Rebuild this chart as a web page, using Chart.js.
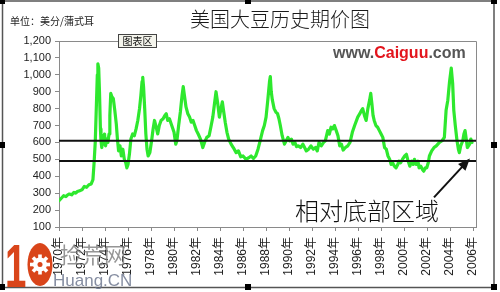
<!DOCTYPE html>
<html>
<head>
<meta charset="utf-8">
<script src="https://cdn.jsdelivr.net/npm/chart.js@4"></script>
<style>
  html, body { margin: 0; padding: 0; background: #fff; }
  #wrap { width: 500px; height: 292px; position: relative; }
</style>
</head>
<body>
<div id="wrap"><canvas id="grafico" width="500" height="292"></canvas></div>
<script>
// anos (fração = mês) e preço da soja em centavos/bushel
const anos = [
  1970.0, 1970.2, 1970.4, 1970.6, 1970.75, 1970.9, 1971.1, 1971.3, 1971.45, 1971.6, 1971.8,
  1972.0, 1972.2, 1972.4, 1972.6, 1972.8, 1972.95, 1973.05, 1973.15, 1973.25, 1973.33, 1973.38,
  1973.45, 1973.52, 1973.6, 1973.65, 1973.72, 1973.8, 1973.88, 1973.96, 1974.05, 1974.15, 1974.25,
  1974.35, 1974.42, 1974.5, 1974.6, 1974.72, 1974.85, 1974.98, 1975.08, 1975.18, 1975.3, 1975.42,
  1975.55, 1975.68, 1975.8, 1975.9, 1976.0, 1976.12, 1976.25, 1976.4, 1976.55, 1976.7, 1976.85,
  1977.0, 1977.12, 1977.22, 1977.28, 1977.35, 1977.45, 1977.55, 1977.65, 1977.75, 1977.9, 1978.05,
  1978.18, 1978.3, 1978.45, 1978.58, 1978.72, 1978.87, 1979.05, 1979.2, 1979.32, 1979.45, 1979.6,
  1979.8, 1980.0, 1980.15, 1980.25, 1980.4, 1980.55, 1980.7, 1980.8, 1980.9, 1981.04, 1981.2,
  1981.35, 1981.5, 1981.65, 1981.8, 1981.95, 1982.1, 1982.3, 1982.5, 1982.65, 1982.85, 1983.05,
  1983.2, 1983.37, 1983.5, 1983.65, 1983.78, 1983.94, 1984.08, 1984.2, 1984.3, 1984.45, 1984.6,
  1984.75, 1984.96, 1985.15, 1985.4, 1985.6, 1985.8, 1986.0, 1986.26, 1986.5, 1986.7, 1986.9,
  1987.1, 1987.3, 1987.45, 1987.7, 1987.85, 1988.0, 1988.15, 1988.3, 1988.37, 1988.45, 1988.55,
  1988.7, 1988.85, 1989.0, 1989.12, 1989.24, 1989.4, 1989.6, 1989.75, 1989.9, 1990.05, 1990.2,
  1990.35, 1990.5, 1990.65, 1990.8, 1991.0, 1991.2, 1991.35, 1991.5, 1991.7, 1991.9, 1992.1,
  1992.3, 1992.45, 1992.6, 1992.8, 1993.0, 1993.15, 1993.36, 1993.5, 1993.65, 1993.8, 1993.94,
  1994.1, 1994.25, 1994.4, 1994.55, 1994.7, 1994.9, 1995.1, 1995.3, 1995.5, 1995.7, 1995.97,
  1996.15, 1996.3, 1996.4, 1996.55, 1996.7, 1996.85, 1997.0, 1997.1, 1997.2, 1997.3, 1997.4,
  1997.55, 1997.7, 1997.85, 1998.0, 1998.15, 1998.3, 1998.45, 1998.6, 1998.75, 1998.87, 1999.0,
  1999.15, 1999.3, 1999.45, 1999.55, 1999.7, 1999.85, 2000.05, 2000.2, 2000.35, 2000.5, 2000.65,
  2000.8, 2000.9, 2001.05, 2001.2, 2001.3, 2001.45, 2001.6, 2001.7, 2001.85, 2001.97, 2002.1,
  2002.2, 2002.4, 2002.6, 2002.8, 2003.07, 2003.3, 2003.5, 2003.65, 2003.8, 2003.95, 2004.1,
  2004.22, 2004.32, 2004.45, 2004.6, 2004.72, 2004.8, 2004.92, 2005.1, 2005.2, 2005.3, 2005.4,
  2005.5, 2005.6, 2005.7, 2005.8, 2005.9
]
const precos = [
  255, 270, 285, 280, 290, 295, 290, 305, 300, 310, 315,
  320, 340, 335, 350, 355, 380, 480, 600, 820, 1000, 1065,
  1040, 900, 680, 610, 570, 640, 590, 650, 580, 620, 600,
  650, 760, 890, 870, 860, 790, 710, 620, 550, 580, 520,
  560, 500, 480, 450, 470, 530, 620, 650, 640, 680, 730,
  800, 880, 960, 985, 930, 800, 650, 560, 520, 540, 610,
  680, 730, 690, 650, 700, 730, 740, 760, 770, 730, 740,
  700, 660, 590, 610, 700, 780, 880, 930, 880, 810, 770,
  750, 720, 730, 700, 670, 650, 620, 570, 600, 630, 640,
  690, 750, 820, 900, 840, 750, 800, 840, 790, 720, 660,
  620, 590, 570, 540, 550, 515, 520, 500, 510, 520, 505,
  520, 560, 600, 670, 700, 750, 850, 960, 990, 900, 850,
  800, 780, 770, 740, 700, 640, 590, 610, 630, 610, 620,
  590, 600, 575, 580, 570, 590, 570, 550, 560, 580, 560,
  570, 550, 600, 580, 600, 610, 670, 650, 690, 680, 700,
  670, 640, 580, 590, 555, 570, 580, 600, 660, 700, 750,
  770, 790, 800, 760, 730, 800, 850, 890, 830, 760, 730,
  700, 690, 670, 650, 630, 570, 560, 520, 500, 470, 480,
  460, 450, 470, 490, 480, 500, 520, 530, 490, 460, 490,
  470, 500, 470, 490, 450, 460, 440, 430, 450, 450, 480,
  520, 550, 570, 580, 600, 610, 630, 790, 850, 960, 1040,
  950, 790, 700, 610, 560, 540, 580, 610, 650, 670, 620,
  570, 580, 590, 620, 600
]
const anosEixo = [1970, 1972, 1974, 1976, 1978, 1980, 1982, 1984, 1986, 1988,
  1990, 1992, 1994, 1996, 1998, 2000, 2002, 2004, 2006]
const precosEixo = [100, 200, 300, 400, 500, 600, 700, 800, 900, 1000, 1100, 1200]
const linhasSuporte = [610, 490]
const setaInicio = [2002.6, 275]
const setaFim = [2005.72, 505]

const FONTE_CJK = "'Noto Sans CJK SC'"
const FONTE_NUM = "'Liberation Sans', 'Noto Sans CJK SC'"
const LARANJA = "#d9451a"

function formatarPreco(v){
    return v >= 1000 ? Math.floor(v / 1000) + "," + String(v % 1000).padStart(3, "0") : String(v)
}

function desenharMarcaDagua(ctx){
    // "1"
    ctx.save()
    ctx.fillStyle = LARANJA
    ctx.textAlign = "left"
    ctx.textBaseline = "alphabetic"
    ctx.translate(5, 287)
    ctx.scale(0.62, 1)
    ctx.font = "bold 62px 'Liberation Sans'"
    ctx.fillText("1", 0, 0)
    ctx.restore()

    // "0" em forma de engrenagem
    ctx.save()
    ctx.translate(40, 264.5)
    ctx.fillStyle = LARANJA
    ctx.beginPath()
    ctx.ellipse(0, 0, 12.5, 21.5, 0, 0, Math.PI * 2)
    ctx.fill()
    ctx.fillStyle = "#fff"
    for(let i = 0; i < 8; i++){
        ctx.rotate(Math.PI / 4)
        ctx.fillRect(-1.8, -10, 3.6, 4)
    }
    ctx.beginPath()
    ctx.arc(0, 0, 7, 0, Math.PI * 2)
    ctx.fill()
    ctx.fillStyle = LARANJA
    ctx.beginPath()
    ctx.arc(0, 0, 2.5, 0, Math.PI * 2)
    ctx.fill()
    ctx.restore()

    ctx.save()
    ctx.globalAlpha = 0.8
    ctx.fillStyle = "#7a7a7a"
    ctx.textAlign = "left"
    ctx.textBaseline = "alphabetic"
    ctx.font = `22px ${FONTE_CJK}`
    ctx.fillText("捡荒网", 60, 263)
    ctx.fillStyle = "#66708a"
    ctx.font = "17px 'Liberation Sans'"
    ctx.fillText("Huang.CN", 53, 286)
    ctx.restore()
}

const decoracao = {
    id: "decoracao",
    beforeDatasetsDraw(chart){
        const { ctx, chartArea: a } = chart
        ctx.save()
        ctx.strokeStyle = "#8a8a8a"
        ctx.lineWidth = 1
        ctx.beginPath()
        ctx.moveTo(a.left, a.top + 0.5)
        ctx.lineTo(a.right + 0.5, a.top + 0.5)
        ctx.lineTo(a.right + 0.5, a.bottom)
        ctx.stroke()
        ctx.restore()
    },
    afterDraw(chart){
        const { ctx, scales } = chart
        const x = scales.x, y = scales.y
        ctx.save()

        // título e unidade
        ctx.fillStyle = "#1a1a1a"
        ctx.textBaseline = "middle"
        ctx.textAlign = "center"
        ctx.font = `300 20px ${FONTE_CJK}`
        ctx.fillText("美国大豆历史期价图", 280, 19)
        ctx.textAlign = "left"
        ctx.font = `10px ${FONTE_CJK}`
        ctx.fillText("单位：美分/蒲式耳", 10, 21)

        // caixinha "图表区"
        ctx.fillStyle = "#f4f4ec"
        ctx.fillRect(118.5, 34.5, 38, 13)
        ctx.strokeStyle = "#444"
        ctx.lineWidth = 1
        ctx.strokeRect(118.5, 34.5, 38, 13)
        ctx.fillStyle = "#111"
        ctx.textAlign = "center"
        ctx.font = `10px ${FONTE_CJK}`
        ctx.fillText("图表区", 137.5, 41.5)

        // marca d'água do site
        ctx.textAlign = "left"
        ctx.font = "bold 16px 'Liberation Sans'"
        let px = 333
        const partes = [["www.", "#555"], ["Caiguu", "#e3141c"], [".com", "#555"]]
        partes.forEach(p => {
            ctx.fillStyle = p[1]
            ctx.fillText(p[0], px, 54)
            px += ctx.measureText(p[0]).width
        })

        // seta e texto da anotação
        const x0 = x.getPixelForValue(setaInicio[0]), y0 = y.getPixelForValue(setaInicio[1])
        const x1 = x.getPixelForValue(setaFim[0]), y1 = y.getPixelForValue(setaFim[1])
        const ang = Math.atan2(y1 - y0, x1 - x0)
        ctx.strokeStyle = "#111"
        ctx.fillStyle = "#111"
        ctx.lineWidth = 2
        ctx.beginPath()
        ctx.moveTo(x0, y0)
        ctx.lineTo(x1 - 6 * Math.cos(ang), y1 - 6 * Math.sin(ang))
        ctx.stroke()
        ctx.beginPath()
        ctx.moveTo(x1, y1)
        ctx.lineTo(x1 - 12 * Math.cos(ang) + 5 * Math.sin(ang), y1 - 12 * Math.sin(ang) - 5 * Math.cos(ang))
        ctx.lineTo(x1 - 12 * Math.cos(ang) - 5 * Math.sin(ang), y1 - 12 * Math.sin(ang) + 5 * Math.cos(ang))
        ctx.closePath()
        ctx.fill()
        ctx.textAlign = "center"
        ctx.font = `300 24px ${FONTE_CJK}`
        ctx.fillText("相对底部区域", 367, 211)

        // moldura externa e alças de seleção
        ctx.strokeStyle = "#555"
        ctx.lineWidth = 1.5
        ctx.strokeRect(2.5, 1, 491.5, 286.5)
        ctx.fillStyle = "#000"
        const alcas = [[2, 1], [248, 1], [494, 1], [2, 145], [494, 145], [2, 287], [248, 287], [494, 287]]
        alcas.forEach(h => ctx.fillRect(h[0] - 3, h[1] - 3, 6, 6))
        ctx.restore()

        desenharMarcaDagua(ctx)
    }
}

function montarDatasets(){
    const serie = {
        data: anos.map((a, i) => ({ x: a, y: precos[i] })),
        borderColor: "#2ee82e",
        borderWidth: 3.2,
        borderJoinStyle: "round",
        borderCapStyle: "round",
        pointRadius: 0,
        tension: 0,
        order: 2
    }
    const linhas = linhasSuporte.map(v => ({
        data: [{ x: 1970, y: v }, { x: 2006.25, y: v }],
        borderColor: "#111",
        borderWidth: 2,
        pointRadius: 0,
        order: 1
    }))
    return [serie, ...linhas]
}

new Chart(document.getElementById("grafico"), {
    type: "line",
    data: { datasets: montarDatasets() },
    options: {
        responsive: false,
        animation: false,
        devicePixelRatio: 1,
        layout: { padding: { left: 0, right: 24, top: 41, bottom: 0 } },
        plugins: { legend: { display: false }, tooltip: { enabled: false } },
        scales: {
            x: {
                type: "linear",
                min: 1970,
                max: 2006.25,
                afterBuildTicks: s => { s.ticks = anosEixo.map(v => ({ value: v })) },
                afterFit: s => { s.height = 65 },
                grid: { drawOnChartArea: false, tickLength: 4, color: "#8a8a8a" },
                border: { color: "#8a8a8a" },
                ticks: {
                    autoSkip: false,
                    minRotation: 90,
                    maxRotation: 90,
                    padding: 6,
                    color: "#222",
                    font: { family: FONTE_NUM, size: 12 },
                    callback: v => v + "年"
                }
            },
            y: {
                min: 100,
                max: 1200,
                afterBuildTicks: s => { s.ticks = precosEixo.map(v => ({ value: v })) },
                afterFit: s => { s.width = 59 },
                grid: { drawOnChartArea: false, tickLength: 4, color: "#8a8a8a" },
                border: { color: "#8a8a8a" },
                ticks: {
                    padding: 4,
                    color: "#222",
                    font: { family: FONTE_NUM, size: 11 },
                    callback: v => formatarPreco(v)
                }
            }
        }
    },
    plugins: [decoracao]
})
</script>
</body>
</html>
